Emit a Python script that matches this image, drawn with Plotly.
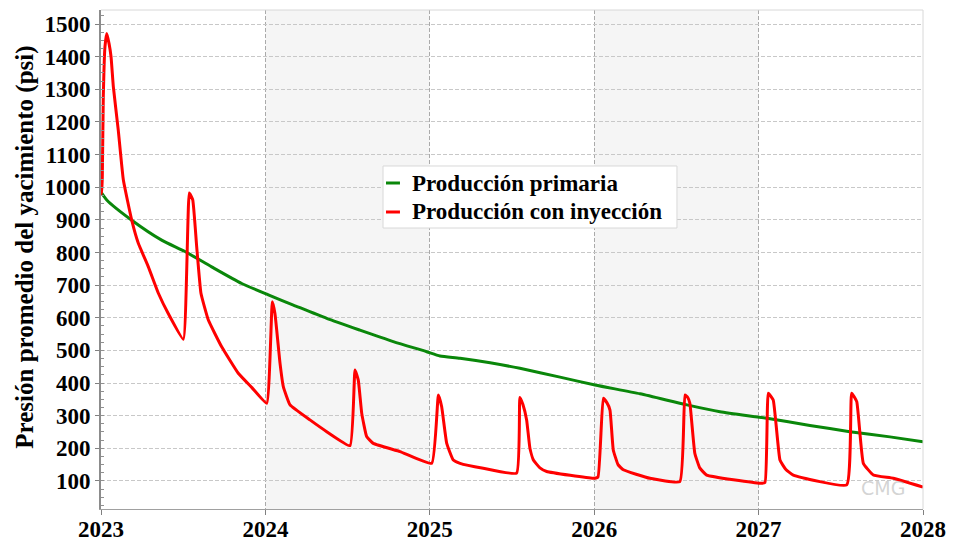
import plotly.graph_objects as go

# Time in decimal years
anio_primaria = [2023.000, 2023.035, 2023.187, 2023.369, 2023.511, 2023.673,
                 2023.856, 2024.018, 2024.170, 2024.373, 2024.575, 2024.778,
                 2024.981, 2025.062, 2025.184, 2025.367, 2025.548, 2025.792,
                 2026.005, 2026.279, 2026.564, 2026.765, 2027.051, 2027.312,
                 2027.555, 2027.799, 2028.000]
presion_primaria = [985, 961, 899, 838, 803, 756,
                    705, 670, 639, 598, 562, 527,
                    496, 483, 476, 462, 445, 418,
                    394, 367, 333, 312, 292, 270,
                    251, 235, 220]

anio_inyeccion = [2023.000, 2023.004, 2023.008, 2023.014, 2023.024, 2023.035,
                  2023.049, 2023.061, 2023.075, 2023.105, 2023.136, 2023.187,
                  2023.227, 2023.288, 2023.349, 2023.409, 2023.501, 2023.537,
                  2023.558, 2023.582, 2023.608, 2023.653, 2023.734, 2023.835,
                  2023.918, 2024.008, 2024.042, 2024.058, 2024.089, 2024.109,
                  2024.150, 2024.271, 2024.373, 2024.515, 2024.545, 2024.565,
                  2024.586, 2024.616, 2024.656, 2024.819, 2025.012, 2025.052,
                  2025.072, 2025.103, 2025.143, 2025.184, 2025.325, 2025.528,
                  2025.548, 2025.566, 2025.589, 2025.609, 2025.630, 2025.670,
                  2025.711, 2025.995, 2026.023, 2026.055, 2026.077, 2026.096,
                  2026.116, 2026.145, 2026.177, 2026.339, 2026.521, 2026.552,
                  2026.570, 2026.582, 2026.612, 2026.642, 2026.684, 2027.008,
                  2027.039, 2027.059, 2027.089, 2027.130, 2027.166, 2027.211,
                  2027.536, 2027.566, 2027.597, 2027.637, 2027.698, 2027.819,
                  2028.000]
presion_inyeccion = [985, 981, 1032, 1277, 1430, 1471,
                     1440, 1400, 1308, 1175, 1022, 899,
                     828, 756, 675, 613, 534, 982,
                     961, 818, 675, 593, 511, 430,
                     386, 338, 649, 613, 460, 389,
                     333, 287, 251, 208, 440, 409,
                     307, 236, 215, 190, 154, 363,
                     328, 215, 164, 154, 139, 124,
                     356, 335, 287, 200, 164, 140,
                     129, 108, 112, 353, 340, 317,
                     195, 150, 134, 108, 98, 363,
                     355, 338, 185, 140, 118, 93,
                     95, 369, 348, 164, 135, 118,
                     88, 369, 343, 154, 118, 108,
                     81]

anios_eje = [2023, 2024, 2025, 2026, 2027, 2028]
bandas_grises = [(2024, 2025), (2026, 2027)]

SERIF = "Liberation Serif, Times New Roman, serif"
VERDE = "#0a870a"
ROJO = "#ff0000"

fig = go.Figure()
fig.add_trace(go.Scatter(
    x=anio_primaria, y=presion_primaria, mode="lines",
    name="Producción primaria", showlegend=False,
    line=dict(color=VERDE, width=3, shape="spline", smoothing=0.6),
))
fig.add_trace(go.Scatter(
    x=anio_inyeccion, y=presion_inyeccion, mode="lines",
    name="Producción con inyección", showlegend=False,
    line=dict(color=ROJO, width=3, shape="spline", smoothing=0.35),
))

# alternating year bands
for a, b in bandas_grises:
    fig.add_shape(type="rect", xref="x", yref="paper", x0=a, x1=b, y0=0, y1=1,
                  fillcolor="#f5f5f5", line_width=0, layer="below")

# legend box
fig.add_shape(type="rect", xref="paper", yref="paper",
              x0=0.3431, x1=0.7007, y0=0.5631, y1=0.6874,
              fillcolor="white", line=dict(color="#d8d8d8", width=1))
for yy, color, label in [(0.6533, VERDE, "Producción primaria"),
                         (0.5952, ROJO, "Producción con inyección")]:
    fig.add_shape(type="line", xref="paper", yref="paper",
                  x0=0.3467, x1=0.3637, y0=yy, y1=yy,
                  line=dict(color=color, width=3))
    fig.add_annotation(x=0.376, y=yy, xref="paper", yref="paper", text=label,
                       showarrow=False, xanchor="left", yanchor="middle",
                       font=dict(family=SERIF, size=23, weight="bold", color="black"))

# y-axis title
fig.add_annotation(x=-0.0935, y=0.524, xref="paper", yref="paper",
                   text="Presión promedio del yacimiento (psi)", textangle=-90,
                   showarrow=False, xanchor="center", yanchor="middle",
                   font=dict(family=SERIF, size=25, weight="bold", color="black"))

# watermark
fig.add_annotation(x=0.98, y=0.016, xref="paper", yref="paper",
                   text="CMG", showarrow=False, xanchor="right", yanchor="bottom",
                   font=dict(family="DejaVu Sans", size=19, color="rgba(170,170,170,0.5)"))

fig.update_layout(
    width=955, height=549,
    margin=dict(l=101, r=32, t=10, b=40, autoexpand=False),
    paper_bgcolor="white", plot_bgcolor="white",
    font=dict(family=SERIF, color="black"),
    showlegend=False,
)
fig.update_xaxes(
    range=[2023, 2028], tickmode="array", tickvals=anios_eje,
    ticktext=[str(a) for a in anios_eje], automargin=False,
    tickfont=dict(family=SERIF, size=23, weight="bold", color="black"),
    ticklabelstandoff=-6,
    showgrid=True, gridcolor="#aaaaaa", griddash="4px,2px", gridwidth=1,
    showline=True, linecolor="#a0a0a0", linewidth=1, mirror=False,
    ticks="outside", ticklen=5, tickcolor="#808080", zeroline=False,
)
fig.update_yaxes(
    range=[14, 1543], tickmode="array", automargin=False,
    tickvals=list(range(100, 1600, 100)),
    tickfont=dict(family=SERIF, size=23, weight="bold", color="black"),
    showgrid=True, gridcolor="#c8c8c8", griddash="4px,2px", gridwidth=1,
    showline=True, linecolor="#8c8c8c", linewidth=2, mirror=False,
    ticks="outside", ticklen=4, tickcolor="#808080", zeroline=False,
    minor=dict(dtick=25, tick0=0, ticks="inside", ticklen=3, tickcolor="#909090",
               showgrid=False),
)
# light frame on top and right
fig.add_shape(type="line", xref="paper", yref="paper", x0=0, x1=1, y0=1, y1=1,
              line=dict(color="#d8d8d8", width=1))
fig.add_shape(type="line", xref="paper", yref="paper", x0=1, x1=1, y0=0, y1=1,
              line=dict(color="#d8d8d8", width=1))

fig.write_html("out.html")
